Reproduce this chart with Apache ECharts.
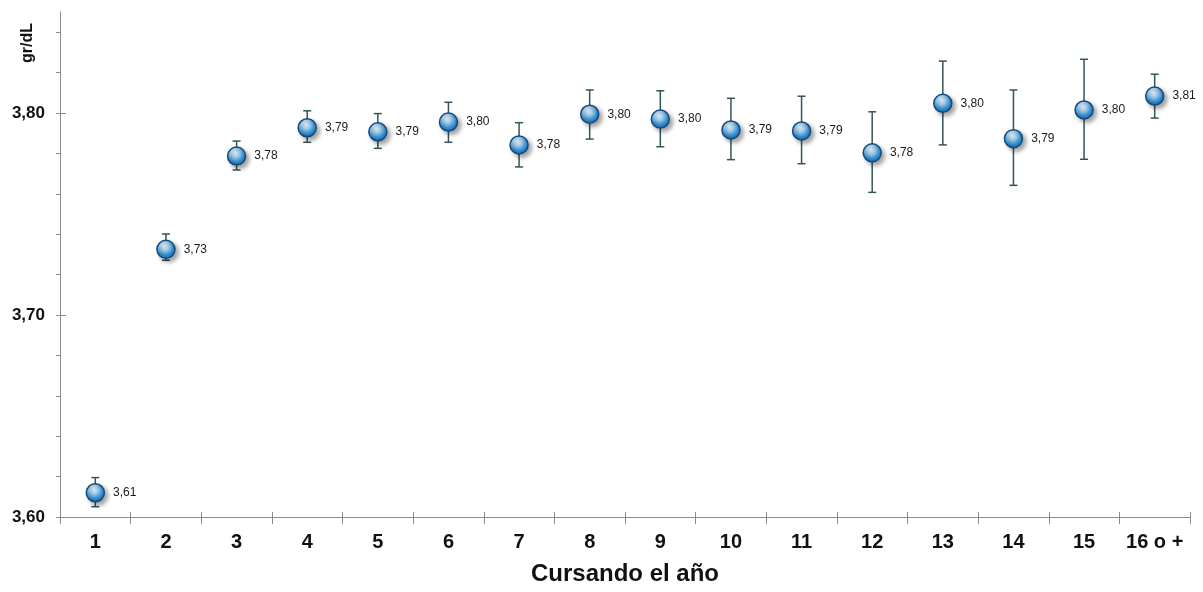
<!DOCTYPE html>
<html>
<head>
<meta charset="utf-8">
<style>
html,body{margin:0;padding:0;background:#fff;}
#chart{width:1203px;height:592px;}
</style>
<script src="https://cdn.jsdelivr.net/npm/echarts@6/dist/echarts.min.js"></script>
</head>
<body>
<div id="chart"></div>
<script>
// ---- data ----
var categories = ['1','2','3','4','5','6','7','8','9','10','11','12','13','14','15','16 o +'];
var means  = [3.612, 3.7325, 3.7787, 3.7927, 3.7907, 3.7955, 3.7842, 3.7994, 3.7970, 3.7916, 3.7911, 3.7803, 3.8048, 3.7873, 3.8015, 3.8084];
var upper  = [3.6195, 3.7401, 3.7861, 3.8011, 3.7997, 3.8053, 3.7952, 3.8114, 3.8110, 3.8073, 3.8083, 3.8006, 3.8257, 3.8114, 3.8266, 3.8192];
var lower  = [3.6051, 3.7271, 3.7718, 3.7855, 3.7825, 3.7855, 3.7733, 3.7871, 3.7833, 3.7769, 3.7749, 3.7607, 3.7842, 3.7642, 3.7771, 3.7975];
var yMinorTicks = [3.60, 3.62, 3.64, 3.66, 3.68, 3.70, 3.72, 3.74, 3.76, 3.78, 3.80, 3.82, 3.84];
var yMajorTicks = [3.60, 3.70, 3.80];
var yMin = 3.60, yMax = 3.85;
var yTitle = 'gr/dL';
var xTitle = 'Cursando el año';

function fmt(v){ return v.toFixed(2).replace('.', ','); }

var FONT = '"Liberation Sans", Arial, sans-serif';
var axisColor = '#8c8c8c';

var errData = categories.map(function(c, i){ return [i, lower[i], upper[i]]; });

var chart = echarts.init(document.getElementById('chart'), null, {renderer:'canvas'});
chart.setOption({
  animation:false,
  backgroundColor:'#ffffff',
  grid:{left:60, right:13, top:12, bottom:75, containLabel:false},
  xAxis:[{
    type:'category', data:categories, boundaryGap:true,
    axisLine:{show:true, lineStyle:{color:axisColor, width:1}},
    axisTick:{show:true, interval:0, alignWithLabel:false, length:7, lineStyle:{color:axisColor}},
    axisLabel:{interval:0, color:'#111', fontFamily:FONT, fontWeight:'bold', fontSize:20, margin:15},
    splitLine:{show:false},
    name:xTitle, nameLocation:'middle', nameGap:45,
    nameTextStyle:{color:'#111', fontFamily:FONT, fontWeight:'bold', fontSize:24}
  },{
    type:'category', data:categories, boundaryGap:true, position:'bottom', offset:0,
    axisLine:{show:false},
    axisTick:{show:true, interval:0, inside:true, length:5, lineStyle:{color:axisColor}},
    axisLabel:{show:false, interval:0}, splitLine:{show:false}
  }],
  yAxis:[{
    type:'value', min:yMin, max:yMax,
    axisLine:{show:true, lineStyle:{color:axisColor, width:1}},
    axisTick:{show:true, length:4, customValues:yMinorTicks, lineStyle:{color:axisColor}},
    axisLabel:{customValues:yMajorTicks, formatter:function(v){return fmt(v);}, color:'#111',
      fontFamily:FONT, fontWeight:'bold', fontSize:17, margin:15},
    splitLine:{show:false}
  },{
    type:'value', min:yMin, max:yMax, position:'left', offset:0,
    axisLine:{show:false},
    axisTick:{show:true, inside:true, length:6, customValues:yMajorTicks, lineStyle:{color:axisColor}},
    axisLabel:{show:false}, splitLine:{show:false}
  }],
  graphic:[{
    type:'text', x:28, y:43, rotation:Math.PI/2,
    style:{text:yTitle, fill:'#111', font:'bold 16px ' + FONT, align:'center', verticalAlign:'middle'}
  }],
  series:[{
    type:'custom', xAxisIndex:0, yAxisIndex:0, z:2,
    data:errData,
    renderItem:function(params, api){
      var x = api.value(0);
      var lo = api.coord([x, api.value(1)]);
      var hi = api.coord([x, api.value(2)]);
      var hw = 4;
      var st = {stroke:'#33555a', lineWidth:1.5};
      return {type:'group', children:[
        {type:'line', shape:{x1:lo[0], y1:lo[1], x2:hi[0], y2:hi[1]}, style:st},
        {type:'line', shape:{x1:lo[0]-hw, y1:lo[1], x2:lo[0]+hw, y2:lo[1]}, style:st},
        {type:'line', shape:{x1:hi[0]-hw, y1:hi[1], x2:hi[0]+hw, y2:hi[1]}, style:st}
      ]};
    }
  },{
    type:'scatter', xAxisIndex:0, yAxisIndex:0, z:5,
    data:means, symbol:'circle', symbolSize:18,
    itemStyle:{
      color:{type:'radial', x:0.42, y:0.32, r:0.72, colorStops:[
        {offset:0, color:'#f2f9fe'},
        {offset:0.3, color:'#a6d2f0'},
        {offset:0.65, color:'#3a8fce'},
        {offset:1, color:'#1a5f9f'}
      ]},
      borderColor:'#0f4a80', borderWidth:1.5,
      shadowColor:'rgba(0,0,0,0.35)', shadowBlur:4, shadowOffsetX:3, shadowOffsetY:3,
      opacity:1
    },
    label:{show:true, position:'right', distance:8, formatter:function(p){return fmt(p.value);},
      color:'#1a1a1a', fontFamily:FONT, fontSize:12},
    emphasis:{disabled:true}
  }]
});
</script>
</body>
</html>
